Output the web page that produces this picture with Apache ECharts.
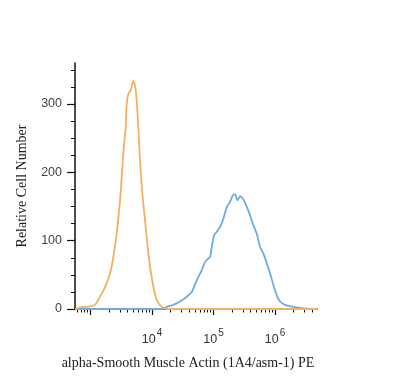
<!DOCTYPE html>
<html>
<head>
<meta charset="utf-8">
<script src="https://cdn.jsdelivr.net/npm/echarts@6/dist/echarts.min.js"></script>
<style>
html,body{margin:0;padding:0;background:#fff}
#chart{width:400px;height:378px}
</style>
</head>
<body>
<div id="chart"></div>
<script>
// isotype control (orange) and alpha-SMA stained (blue), PE intensity vs count
const orangeX=[560,675,815,982,1183,1427,1721,2075,2350,2667,3020,3215,3414,3733,3877,4119,4506,4970,5296,5640,5990,6377,6953,7690,8510,9280,10500,11920,14380,17340,4800000];
const orangeY=[0,2,3,4,6,18,32,52,76,111,159,193,228,266,300,315,320,334,327,305,266,217,169,130,91,62,33,13,3,0,0];
const blueX=[560,15000,17340,22200,28500,36600,44200,53300,64300,72800,82300,87700,93500,101900,112700,127600,144300,164000,185500,205000,223700,243900,269700,298500,337600,382000,433700,503700,570000,645000,733000,829000,938000,1066000,1205000,1455000,1987000,2887000,4150000,4800000];
const blueY=[0,0,3,6,11,18,25,42,57,69,74,76,91,108,113,120,132,149,157,166,168,159,165,162,152,140,125,110,91,81,67,52,35,20,11,6,3,1,0,0];
const xMajor=[1e3,1e4,1e5,1e6];
const xLabels=[1e4,1e5,1e6];
const xMinor=[6e2,7e2,8e2,9e2,2e3,3e3,4e3,5e3,6e3,7e3,8e3,9e3,2e4,3e4,4e4,5e4,6e4,7e4,8e4,9e4,2e5,3e5,4e5,5e5,6e5,7e5,8e5,9e5,2e6,3e6,4e6];
const yMajor=[0,100,200,300];
const yMinor=[25,50,75,125,150,175,225,250,275,325,350];

const chart=echarts.init(document.getElementById("chart"));
const serif="'Liberation Serif','Times New Roman',serif";
const sans="'Liberation Sans',Arial,sans-serif";

chart.setOption({
  animation:false,
  grid:{left:75,right:83,top:63,bottom:69},
  xAxis:[{
    type:"log",min:560,max:4800000,
    name:"alpha-Smooth Muscle Actin (1A4/asm-1) PE",
    nameLocation:"middle",nameGap:47,
    nameTextStyle:{fontFamily:serif,fontSize:14,color:"#222",padding:[0,16,0,0]},
    axisLine:{lineStyle:{color:"#111",width:1.5}},
    axisTick:{customValues:xMajor,length:6,lineStyle:{color:"#111",width:1.2}},
    splitLine:{show:false},
    axisLabel:{
      customValues:xLabels,margin:19,
      formatter:v=>`{b|10}{e|${Math.round(Math.log10(v))}}`,
      rich:{
        b:{fontFamily:sans,fontSize:12.5,color:"#333"},
        e:{fontFamily:sans,fontSize:10,color:"#333",padding:[0,0,13,1]}
      }
    }
  },{
    type:"log",min:560,max:4800000,position:"bottom",
    axisLine:{show:false},
    axisTick:{customValues:xMinor,length:3.5,lineStyle:{color:"#111",width:1}},
    axisLabel:{show:false},
    splitLine:{show:false}
  }],
  yAxis:[{
    type:"value",min:0,max:360,
    name:"Relative Cell Number",
    nameLocation:"middle",nameGap:46,
    nameTextStyle:{fontFamily:serif,fontSize:14,color:"#222"},
    axisLine:{show:true,lineStyle:{color:"#111",width:1.5}},
    axisTick:{show:true,customValues:yMajor,length:8,lineStyle:{color:"#111",width:1.2}},
    splitLine:{show:false},
    axisLabel:{customValues:yMajor,margin:13,fontFamily:sans,fontSize:12.5,color:"#444"}
  },{
    type:"value",min:0,max:360,position:"left",
    axisLine:{show:false},
    axisTick:{show:true,customValues:yMinor,length:4,lineStyle:{color:"#111",width:1}},
    axisLabel:{show:false},
    splitLine:{show:false}
  }],
  series:[{
    type:"line",name:"stained",xAxisIndex:0,yAxisIndex:0,
    data:blueX.map((x,i)=>[x,blueY[i]]),
    showSymbol:false,smooth:0.2,
    lineStyle:{color:"#6fabdc",width:1.8}
  },{
    type:"line",name:"isotype",xAxisIndex:0,yAxisIndex:0,
    data:orangeX.map((x,i)=>[x,orangeY[i]]),
    showSymbol:false,smooth:0.2,
    lineStyle:{color:"#f2b062",width:1.8}
  }]
});
</script>
</body>
</html>
